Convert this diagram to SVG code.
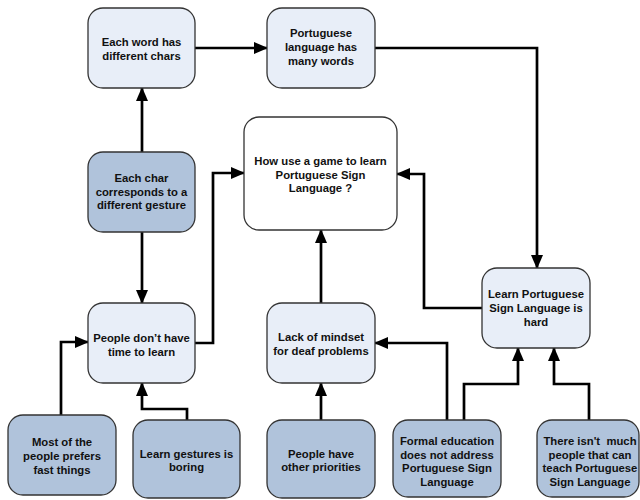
<svg xmlns="http://www.w3.org/2000/svg" width="640" height="500" viewBox="0 0 640 500">
<style>
.n rect{stroke:#333;stroke-width:1.3}
.l rect{fill:#E8EEF8}
.d rect{fill:#B0C3DB}
.w rect{fill:#FFFFFF}
text{font-family:"Liberation Sans",Arial,sans-serif;font-weight:bold;font-size:11.3px;fill:#111;text-anchor:middle}
.c path{fill:none;stroke:#000;stroke-width:2.7;marker-end:url(#ah)}
</style>
<defs>
<marker id="ah" markerUnits="userSpaceOnUse" markerWidth="14" markerHeight="12" refX="13" refY="6" orient="auto">
<path d="M0,0 L14,6 L0,12 z" fill="#000"/>
</marker>
</defs>
<rect width="640" height="500" fill="#fff"/>
<g class="c" id="connectors">
<path d="M195,48 L267,48"/>
<path d="M375,48 L537,48 L537,268"/>
<path d="M142,152 L142,88"/>
<path d="M142,232 L142,303"/>
<path d="M195,343 L213,343 L213,173 L244,173"/>
<path d="M482,308 L424,308 L424,174 L397,174"/>
<path d="M321,303 L321,230"/>
<path d="M61,415 L61,342 L88,342"/>
<path d="M187,420 L187,409 L142,409 L142,383"/>
<path d="M321,420 L321,383"/>
<path d="M447,420 L447,343 L375,343"/>
<path d="M464,420 L464,384 L518,384 L518,348"/>
<path d="M589,420 L589,384 L554,384 L554,348"/>
</g>
<g id="n1" class="n l"><rect x="88" y="8" width="107" height="80" rx="15"/><text x="141.5" y="46">Each word has</text><text x="141.5" y="59.5">different chars</text></g>
<g id="n2" class="n l"><rect x="267" y="8" width="108" height="80" rx="15"/><text x="321" y="37">Portuguese</text><text x="321" y="51">language has</text><text x="321" y="65">many words</text></g>
<g id="n3" class="n w"><rect x="244" y="117" width="153" height="113" rx="15"/><text x="320.5" y="165">How use a game to learn</text><text x="320.5" y="178.5">Portuguese Sign</text><text x="320.5" y="192">Language ?</text></g>
<g id="n4" class="n d"><rect x="88" y="152" width="107" height="80" rx="15"/><text x="141.5" y="182">Each char</text><text x="141.5" y="195.5">corresponds to a</text><text x="141.5" y="209">different gesture</text></g>
<g id="n5" class="n l"><rect x="88" y="303" width="107" height="80" rx="15"/><text x="141.5" y="342">People don’t have</text><text x="141.5" y="355.5">time to learn</text></g>
<g id="n6" class="n l"><rect x="267" y="303" width="108" height="80" rx="15"/><text x="321" y="341">Lack of mindset</text><text x="321" y="355">for deaf problems</text></g>
<g id="n7" class="n l"><rect x="482" y="268" width="108" height="80" rx="15"/><text x="536" y="298">Learn Portuguese</text><text x="536" y="312">Sign Language is</text><text x="536" y="326">hard</text></g>
<g id="n8" class="n d"><rect x="8" y="415" width="108" height="80" rx="15"/><text x="62" y="446">Most of the</text><text x="62" y="460">people prefers</text><text x="62" y="473.5">fast things</text></g>
<g id="n9" class="n d"><rect x="133" y="420" width="107" height="78" rx="15"/><text x="186.5" y="458">Learn gestures is</text><text x="186.5" y="471">boring</text></g>
<g id="n10" class="n d"><rect x="267" y="420" width="108" height="78" rx="15"/><text x="321" y="458">People have</text><text x="321" y="471">other priorities</text></g>
<g id="n11" class="n d"><rect x="393" y="420" width="108" height="77" rx="15"/><text x="447" y="445">Formal education</text><text x="447" y="458.5">does not address</text><text x="447" y="472">Portuguese Sign</text><text x="447" y="485.5">Language</text></g>
<g id="n12" class="n d"><rect x="537" y="420" width="102" height="77" rx="15"/><text x="590" y="445" xml:space="preserve">There isn't  much</text><text x="590" y="458.5">people that can</text><text x="590" y="472">teach Portuguese</text><text x="590" y="485.5">Sign Language</text></g>
</svg>
